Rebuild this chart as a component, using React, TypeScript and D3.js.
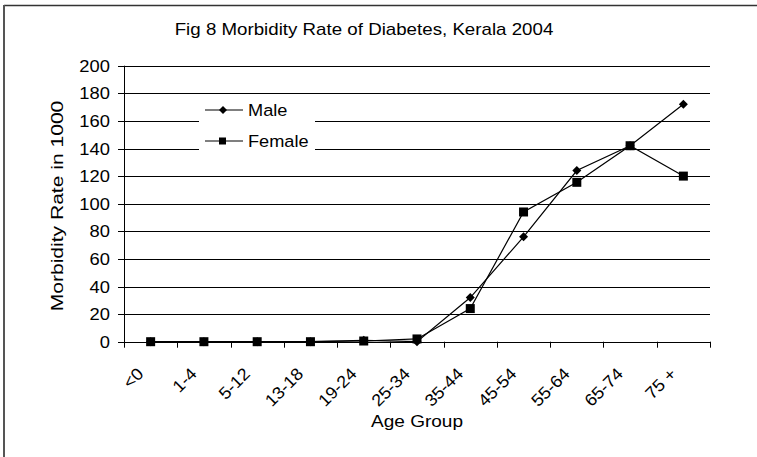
import React from "react";
import * as d3 from "d3";

const categories = ["<0", "1-4", "5-12", "13-18", "19-24", "25-34", "35-44", "45-54", "55-64", "65-74", "75 +"];
const maleValues = [0, 0, 0, 0, 1, 0, 32, 76, 124, 142, 172];
const femaleValues = [0, 0, 0, 0, 0.5, 2, 24, 94, 115.5, 142, 120];
const yTicks = [0, 20, 40, 60, 80, 100, 120, 140, 160, 180, 200];
const title = "Fig 8 Morbidity Rate of Diabetes, Kerala 2004";
const yLabel = "Morbidity Rate in 1000";
const xLabel = "Age Group";
const seriesNames = ["Male", "Female"];

const W = 757, H = 457;
const left = 124, right = 710, top = 65.7, bottom = 341.7;
const FONT = "'Liberation Sans', Arial, sans-serif";

function T(props: { x: number; y: number; rot?: number; sx: number; fs: number; anchor?: string; dy?: string; children: React.ReactNode }) {
  const { x, y, rot = 0, sx, fs, anchor = "start", dy, children } = props;
  return (
    <text transform={`translate(${x},${y}) rotate(${rot}) scale(${sx},1)`} textAnchor={anchor} dy={dy} fontSize={fs} fill="#000">
      {children}
    </text>
  );
}

export default function App() {
  const x = d3.scaleBand<string>().domain(categories).range([left, right]);
  const y = d3.scaleLinear().domain([0, 200]).range([bottom, top]);
  const cx = (c: string) => (x(c) as number) + x.bandwidth() / 2;
  const line = d3.line<number>().x((_, i) => cx(categories[i])).y((v) => y(v));
  const diamond = (px: number, py: number, r: number) =>
    `M${px},${py - r}L${px + r},${py}L${px},${py + r}L${px - r},${py}Z`;
  const snap = (v: number) => Math.round(v) + 0.5;

  const legX = 205, legY1 = 110, legY2 = 141;

  return (
    <svg width={W} height={H} style={{ position: "absolute", left: 0, top: 0, background: "#fff" }} fontFamily={FONT}>
      <rect x={0} y={0} width={W} height={H} fill="#fff" />
      <line x1={4} y1={5.5} x2={W} y2={5.5} stroke="#333" strokeWidth={1.5} />
      <line x1={4} y1={5} x2={4} y2={H} stroke="#555" strokeWidth={2} />
      <T x={364} y={35} sx={1.17} fs={16} anchor="middle">{title}</T>

      {yTicks.map((t) => (
        <g key={t}>
          {t > 0 && <line x1={left} x2={right} y1={snap(y(t))} y2={snap(y(t))} stroke="#000" strokeWidth={1} />}
          <line x1={left - 6} x2={left} y1={snap(y(t))} y2={snap(y(t))} stroke="#000" />
          <T x={110} y={y(t)} dy="0.36em" sx={1.08} fs={17} anchor="end">{t}</T>
        </g>
      ))}
      <line x1={left + 0.5} x2={left + 0.5} y1={top} y2={bottom + 0.5} stroke="#000" />
      <line x1={left} x2={right + 0.5} y1={snap(bottom)} y2={snap(bottom)} stroke="#000" strokeWidth={1.2} />
      {d3.range(categories.length + 1).map((i) => {
        const xx = snap(left + i * x.bandwidth());
        return <line key={i} x1={xx} x2={xx} y1={bottom} y2={bottom + 6} stroke="#000" />;
      })}
      {categories.map((c) => (
        <T key={c} x={cx(c) - 6} y={375} rot={-45} sx={1.06} fs={17} anchor="end">{c}</T>
      ))}
      <T x={(left + right) / 2} y={427} sx={1.12} fs={17} anchor="middle">{xLabel}</T>
      <T x={63} y={206} rot={-90} sx={1.24} fs={17} anchor="middle">{yLabel}</T>

      <path d={line(maleValues) || ""} fill="none" stroke="#000" strokeWidth={1.2} />
      <path d={line(femaleValues) || ""} fill="none" stroke="#000" strokeWidth={1.2} />
      {femaleValues.map((v, i) => (
        <rect key={"f" + i} x={cx(categories[i]) - 4.5} y={y(v) - 4.5} width={9} height={9} fill="#000" />
      ))}
      {maleValues.map((v, i) => (
        <path key={"m" + i} d={diamond(cx(categories[i]), y(v), 4.5)} fill="#000" />
      ))}

      <rect x={199} y={100} width={116} height={58} fill="#fff" />
      <line x1={legX} x2={legX + 38} y1={legY1} y2={legY1} stroke="#000" strokeWidth={1.2} />
      <path d={diamond(legX + 18, legY1, 4)} fill="#000" />
      <T x={legX + 43} y={legY1} dy="0.36em" sx={1.07} fs={17}>{seriesNames[0]}</T>
      <line x1={legX} x2={legX + 38} y1={legY2} y2={legY2} stroke="#000" strokeWidth={1.2} />
      <rect x={legX + 14} y={legY2 - 3.5} width={7} height={7} fill="#000" />
      <T x={legX + 43} y={legY2} dy="0.36em" sx={1.07} fs={17}>{seriesNames[1]}</T>
    </svg>
  );
}
